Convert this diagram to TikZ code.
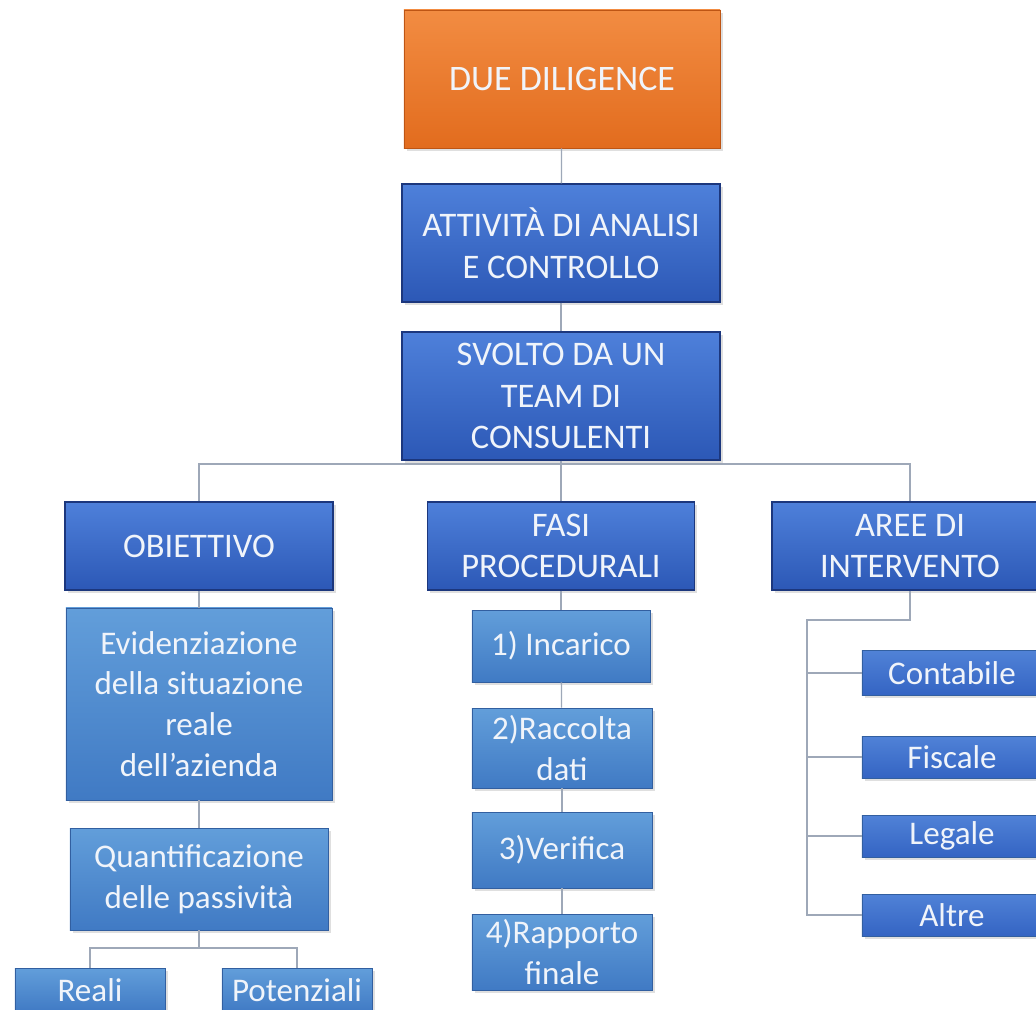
\documentclass[tikz,border=0pt]{standalone}
\usepackage{fontspec}
\setmainfont{Carlito}
\usetikzlibrary{positioning,shadows}
\definecolor{duetop}{RGB}{242,140,66}
\definecolor{duebot}{RGB}{226,108,30}
\definecolor{dueedge}{RGB}{190,85,20}
\definecolor{headtop}{RGB}{78,128,218}
\definecolor{headbot}{RGB}{44,88,182}
\definecolor{headedge}{RGB}{28,55,125}
\definecolor{itemtop}{RGB}{98,158,218}
\definecolor{itembot}{RGB}{64,122,196}
\definecolor{itemedge}{RGB}{50,95,160}
\definecolor{areatop}{RGB}{80,130,215}
\definecolor{areabot}{RGB}{52,100,195}
\definecolor{linkgray}{RGB}{158,168,184}
\definecolor{labelwhite}{RGB}{240,244,250}

\begin{document}
\begin{tikzpicture}[
    x=0.025cm,
    y=-0.025cm,
    box/.style={rectangle,inner sep=0pt,align=center,text=labelwhite,
      font=\fontsize{23.5}{29}\selectfont,
      drop shadow={opacity=0.25,shadow xshift=2pt,shadow yshift=-2pt}},
    duebox/.style={box,top color=duetop,bottom color=duebot,draw=dueedge,
      font=\fontsize{25.5}{30}\selectfont},
    headbox/.style={box,top color=headtop,bottom color=headbot,draw=headedge,line width=0.8pt,
      font=\fontsize{24.5}{29.5}\selectfont},
    itembox/.style={box,top color=itemtop,bottom color=itembot,draw=itemedge,line width=0.4pt},
    areabox/.style={box,top color=areatop,bottom color=areabot,draw=itemedge,line width=0.4pt},
    link/.style={draw=linkgray,line width=0.9pt}
]
  \clip (0,0) rectangle (1036,1009);
  \fill[white] (0,0) rectangle (1036,1009);

  % top chain
  \node[duebox,minimum width=7.9cm,minimum height=3.45cm] (due) at (562,79) {DUE DILIGENCE};
  \node[headbox,minimum width=7.95cm,minimum height=2.95cm] (att) at (561,243)
    {ATTIVITÀ DI ANALISI\\E CONTROLLO};
  \node[headbox,minimum width=7.95cm,minimum height=3.2cm] (svo) at (561,396)
    {SVOLTO DA UN\\TEAM DI\\CONSULENTI};

  % second level
  \node[headbox,minimum width=6.7cm,minimum height=2.2cm] (obi) at (199,546) {OBIETTIVO};
  \node[headbox,minimum width=6.68cm,minimum height=2.2cm] (fasi) at (561,546)
    {FASI\\PROCEDURALI};
  \node[headbox,minimum width=6.9cm,minimum height=2.2cm] (aree) at (910,546)
    {AREE DI\\INTERVENTO};

  % obiettivo
  \node[itembox,minimum width=6.65cm,minimum height=4.8cm] (evi) at (199,704)
    {Evidenziazione\\della situazione\\reale\\dell’azienda};
  \node[itembox,minimum width=6.45cm,minimum height=2.55cm] (qua) at (199,879)
    {Quantificazione\\delle passività};
  \node[itembox,minimum width=3.75cm,minimum height=1.1cm] (rea) at (90,990) {Reali};
  \node[itembox,minimum width=3.75cm,minimum height=1.1cm] (pot) at (297,990) {Potenziali};

  % fasi procedurali
  \node[itembox,minimum width=4.45cm,minimum height=1.8cm] (inc) at (561,646) {1) Incarico};
  \node[itembox,minimum width=4.5cm,minimum height=2.0cm] (rac) at (562,748) {2)Raccolta\\dati};
  \node[itembox,minimum width=4.5cm,minimum height=1.9cm] (ver) at (562,850) {3)Verifica};
  \node[itembox,minimum width=4.5cm,minimum height=1.9cm] (rap) at (562,952) {4)Rapporto\\finale};

  % aree di intervento
  \node[areabox,minimum width=4.5cm,minimum height=1.12cm] (con) at (952,673) {Contabile};
  \node[areabox,minimum width=4.5cm,minimum height=1.05cm] (fis) at (952,757) {Fiscale};
  \node[areabox,minimum width=4.5cm,minimum height=1.05cm] (leg) at (952,836) {Legale};
  \node[areabox,minimum width=4.5cm,minimum height=1.05cm] (alt) at (952,915) {Altre};

  % connectors
  \coordinate (mainbar) at (561,464);
  \coordinate (quabar) at (199,948);
  \coordinate (areejoint) at (807,620);

  \draw[link] (due) -- (att);
  \draw[link] (att) -- (svo);
  \draw[link] (svo.south) -- (mainbar) -| (obi.north);
  \draw[link] (mainbar) -| (aree.north);
  \draw[link] (mainbar) -- (fasi.north);
  \draw[link] (obi) -- (evi);
  \draw[link] (evi) -- (qua);
  \draw[link] (qua.south) -- (quabar) -| (rea.north);
  \draw[link] (quabar) -| (pot.north);
  \draw[link] (fasi) -- (inc);
  \draw[link] (inc) -- (rac);
  \draw[link] (rac) -- (ver);
  \draw[link] (ver) -- (rap);
  \draw[link] (aree.south) |- (areejoint) |- (alt.west);
  \foreach \area in {con,fis,leg}
    \draw[link] (areejoint |- \area.west) -- (\area.west);
\end{tikzpicture}
\end{document}
